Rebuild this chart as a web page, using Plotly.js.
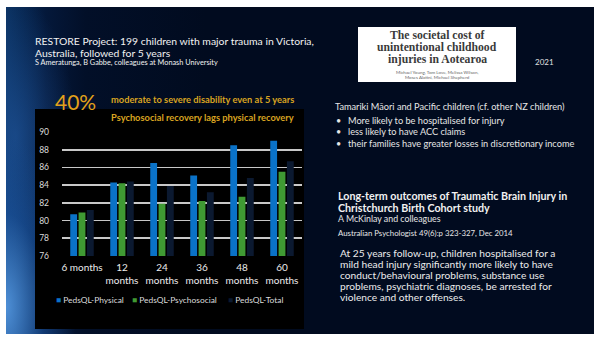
<!DOCTYPE html>
<html><head><meta charset="utf-8">
<script src="https://cdn.plot.ly/plotly-3.0.1.min.js"></script>
<style>
html,body{margin:0;padding:0;background:#fff;width:594px;height:337px;overflow:hidden}
#slide{position:absolute;left:6px;top:7px;width:588px;height:327px;
background:
 radial-gradient(ellipse 70px 170px at 0px 300px, rgba(90,160,235,0.85), rgba(30,90,170,0.5) 55%, rgba(10,40,90,0) 100%),
 radial-gradient(ellipse 60px 140px at 10px 130px, rgba(40,100,180,0.5), rgba(10,40,90,0) 100%),
 linear-gradient(to right, #0b3262 0px, #072650 18px, #04183a 40px, #020f28 80px, #010b1f 200px, #010b1f 100%);}
#chart{position:absolute;left:0;top:0;width:594px;height:337px}
</style></head>
<body>
<div id="slide"></div>
<div id="chart"></div>
<script>
const categories = ["6 months","12 months","24 months","36 months","48 months","60 months"];
const tickLabels = ["6 months","12<br>months","24<br>months","36<br>months","48<br>months","60<br>months"];
const seriesNames = ["PedsQL-Physical","PedsQL-Psychosocial","PedsQL-Total"];
const physical = [80.7, 84.3, 86.5, 85.1, 88.5, 89.0];
const psychosocial = [80.9, 84.2, 81.9, 82.2, 82.7, 85.5];
const total = [81.2, 84.4, 83.9, 83.2, 84.8, 86.7];
const yTicks = [76,78,80,82,84,86,88,90];

const colors = ["#0a72c8","#3f9a33","#0b1930"];
const W=594,H=337;
const px=x=>x/W, py=y=>1-y/H;
const FONT="Lato";

const traces=[physical,psychosocial,total].map((v,i)=>({
  type:"bar", x:categories, y:v, name:seriesNames[i],
  marker:{color:colors[i]}, showlegend:false, hoverinfo:"skip"
}));

function ann(text,x,y,size,color,opts={}){
  return Object.assign({text:text,x:px(x),y:py(y),xref:"paper",yref:"paper",
    xanchor:"left",yanchor:"middle",showarrow:false,borderpad:0,
    font:{family:FONT,size:size,color:color}},opts);
}
const serif={family:"Liberation Serif",size:11.7,color:"#3a3a3a",weight:"bold"};
const annotations=[
  ann("RESTORE Project: 199 children with major trauma in Victoria,",34,41,10.4,"#f2f2f2"),
  ann("Australia, followed for 5 years",34,53,10.4,"#f2f2f2"),
  ann("S Ameratunga, B Gabbe, colleagues at Monash University",34,62.5,7.3,"#f2f2f2"),
  ann("The societal cost of",437,35,11.7,"#333",{xanchor:"center",font:serif}),
  ann("unintentional childhood",437,47.3,11.7,"#333",{xanchor:"center",font:serif}),
  ann("injuries in Aotearoa",437,59.8,11.7,"#333",{xanchor:"center",font:serif}),
  ann("Michael Young, Tom Love, Melissa Wilson,",437,72.5,4.5,"#666",{xanchor:"center"}),
  ann("Moses Alatini, Michael Shepherd",437,77.5,4.5,"#666",{xanchor:"center"}),
  ann("2021",544,62,8,"#e0e0e0",{xanchor:"center"}),
  ann("Tamariki Māori and Pacific children (cf. other NZ children)",334,107,9.2,"#e6e6e6"),
  ann("•",335,120,9,"#e6e6e6"),
  ann("More likely to be hospitalised for injury",347,120,9.2,"#e6e6e6"),
  ann("•",335,131,9,"#e6e6e6"),
  ann("less likely to have ACC claims",347,131,9.2,"#e6e6e6"),
  ann("•",335,143,9,"#e6e6e6"),
  ann("their families have greater losses in discretionary income",347,143,9.2,"#e6e6e6"),
  ann("<b>Long-term outcomes of Traumatic Brain Injury in</b>",337,195,10.7,"#f2f2f2"),
  ann("<b>Christchurch Birth Cohort study</b>",337,207,10.7,"#f2f2f2"),
  ann("A McKinlay and colleagues",337,218,8.8,"#e6e6e6"),
  ann("Australian Psychologist 49(6):p 323-327, Dec 2014",337,233,7.8,"#e6e6e6"),
  ann("At 25 years follow-up, children hospitalised for a",339,253.3,10.2,"#ececec"),
  ann("mild head injury significantly more likely to have",339,264.3,10.2,"#ececec"),
  ann("conduct/behavioural problems, substance use",339,275.3,10.2,"#ececec"),
  ann("problems, psychiatric diagnoses, be arrested for",339,286.3,10.2,"#ececec"),
  ann("violence and other offenses.",339,297.3,10.2,"#ececec"),
  ann("40%",54,101,21,"#e3a21a"),
  ann("<b>moderate to severe disability even at 5 years</b>",110,99,9.3,"#d9a421"),
  ann("<b>Psychosocial recovery lags physical recovery</b>",110,117,9.3,"#d9a421"),
];
const legX=[55,131,227];
seriesNames.forEach((n,i)=>annotations.push(
  ann(`<span style="color:${colors[i]}">■</span> ${n}`,legX[i],300,8.4,"#dcdcdc")));

const layout={
  width:W,height:H,margin:{l:0,r:0,t:0,b:0},
  paper_bgcolor:"rgba(0,0,0,0)",plot_bgcolor:"rgba(0,0,0,0)",
  barmode:"group",bargap:0.375,bargroupgap:0.18,
  showlegend:false,
  font:{family:FONT,color:"#e6e6e6"},
  xaxis:{domain:[px(62),px(302)],type:"category",tickvals:categories,ticktext:tickLabels,
    showgrid:false,zeroline:false,showline:false,ticks:"",ticklabelstandoff:4,
    tickfont:{family:FONT,size:10,color:"#ececec"}},
  yaxis:{domain:[py(256),py(132)],range:[76,90],tickvals:yTicks,
    showgrid:true,gridcolor:"#c8c8c8",gridwidth:1.6,zeroline:false,showline:false,ticks:"",
    ticklabelstandoff:12,tickfont:{family:FONT,size:8.5,color:"#dcdcdc"}},
  shapes:[
    {type:"rect",xref:"paper",yref:"paper",x0:px(35),x1:px(304),y0:py(329),y1:py(109),
     fillcolor:"#000",line:{width:0},layer:"below"},
    {type:"rect",xref:"paper",yref:"paper",x0:px(358),x1:px(516),y0:py(82),y1:py(27),
     fillcolor:"#fff",line:{width:0},layer:"below"}
  ],
  annotations:annotations
};
Plotly.newPlot("chart",traces,layout,{staticPlot:true,displayModeBar:false});
</script>
</body></html>
